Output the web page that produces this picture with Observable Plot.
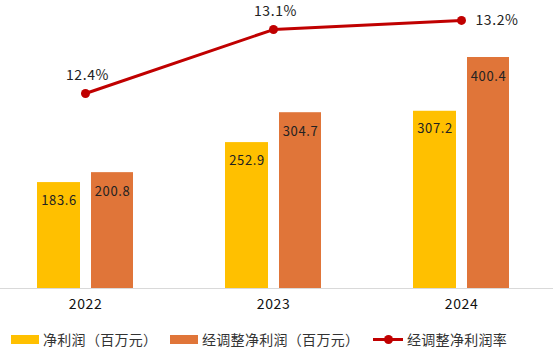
<!DOCTYPE html>
<html>
<head>
<meta charset="utf-8">
<script src="https://cdn.jsdelivr.net/npm/d3@7"></script>
<script src="https://cdn.jsdelivr.net/npm/@observablehq/plot@0.6"></script>
<style>
  html, body { margin: 0; padding: 0; background: #fff; }
  #wrap { position: relative; width: 553px; height: 353px; font-family: "Noto Sans CJK SC", "Noto Sans", sans-serif; }
  #chart svg text { letter-spacing: 0.6px; }
  #legend { position: absolute; left: 0; top: 329px; width: 553px; height: 20px; font-size: 14px; color: #333; }
  .item { position: absolute; top: 0; height: 20px; display: flex; align-items: center; white-space: nowrap; letter-spacing: 0.3px; }
  .sw { display: inline-block; width: 28px; height: 9px; margin-right: 4px; }
  .ln { position: relative; display: inline-block; width: 30px; height: 20px; margin-right: 4px; }
  .ln::before { content: ""; position: absolute; left: 0; right: 0; top: 8.5px; height: 3px; background: #C00000; }
  .ln::after { content: ""; position: absolute; left: 10.5px; top: 5.5px; width: 9px; height: 9px; border-radius: 50%; background: #C00000; }
</style>
</head>
<body>
<div id="wrap">
  <div id="chart"></div>
  <div id="legend"></div>
</div>
<script>
// ---- data ----
const years = ["2022", "2023", "2024"];
const netProfit = [183.6, 252.9, 307.2];        // 净利润（百万元）
const adjNetProfit = [200.8, 304.7, 400.4];     // 经调整净利润（百万元）
const adjMargin = [12.4, 13.1, 13.2];           // 经调整净利润率（%）
const seriesNames = ["净利润（百万元）", "经调整净利润（百万元）", "经调整净利润率"];
const colors = ["#FFC000", "#E07539", "#C00000"];

// ---- tables built from the arrays ----
const bars1 = years.map((y, i) => ({year: y, value: netProfit[i]}));
const bars2 = years.map((y, i) => ({year: y, value: adjNetProfit[i]}));
// secondary (percent) axis mapped onto the primary y domain
const pctDomain = [10.265, 12.794];
const yDomain = [0, 400.4];
const pctToY = p => (p - pctDomain[0]) / (pctDomain[1] - pctDomain[0]) * (yDomain[1] - yDomain[0]) + yDomain[0];
const line = years.map((y, i) => ({year: y, pct: adjMargin[i], yv: pctToY(adjMargin[i]), i}));

const font = "Noto Sans CJK SC";

const chart = Plot.plot({
  width: 553,
  height: 322,
  marginTop: 0, marginRight: 0, marginBottom: 34, marginLeft: 0,
  style: {background: "transparent", fontFamily: font},
  x: {type: "band", domain: years, range: [-9, 555], padding: 0},
  y: {domain: yDomain, range: [288, 57], axis: null},
  marks: [
    Plot.ruleY([0], {stroke: "#d9d9d9", strokeWidth: 1}),
    Plot.barY(bars1, {x: "year", y: "value", fill: colors[0], insetLeft: 46, insetRight: 99}),
    Plot.barY(bars2, {x: "year", y: "value", fill: colors[1], insetLeft: 100, insetRight: 46}),
    Plot.text(bars1, {x: "year", y: "value", text: d => d.value.toFixed(1), dx: -26.5, dy: 18, fontSize: 13, fill: "#222", fontFamily: font}),
    Plot.text(bars2, {x: "year", y: "value", text: d => d.value.toFixed(1), dx: 27, dy: 19, fontSize: 13, fill: "#222", fontFamily: font}),
    Plot.line(line, {x: "year", y: "yv", stroke: colors[2], strokeWidth: 3}),
    Plot.dot(line, {x: "year", y: "yv", fill: colors[2], r: 4.5}),
    Plot.text(line.filter(d => d.i < 2), {x: "year", y: "yv", text: d => d.pct.toFixed(1) + "%", dy: -18, dx: 2, fontSize: 14, fill: "#222", fontFamily: font}),
    Plot.text(line.filter(d => d.i === 2), {x: "year", y: "yv", text: d => d.pct.toFixed(1) + "%", dx: 14, textAnchor: "start", fontSize: 14, fill: "#222", fontFamily: font}),
    Plot.axisX({tickSize: 0, tickPadding: 11, fontSize: 14, fontWeight: "normal", fill: "#111", label: null})
  ]
});
document.getElementById("chart").appendChild(chart);

// ---- legend ----
const legend = document.getElementById("legend");
const lefts = [11, 170, 373];
seriesNames.forEach((name, i) => {
  const it = document.createElement("div");
  it.className = "item";
  it.style.left = lefts[i] + "px";
  const sw = document.createElement("span");
  if (i < 2) { sw.className = "sw"; sw.style.background = colors[i]; }
  else { sw.className = "ln"; }
  it.appendChild(sw);
  const t = document.createElement("span");
  t.textContent = name;
  it.appendChild(t);
  legend.appendChild(it);
});
</script>
</body>
</html>
